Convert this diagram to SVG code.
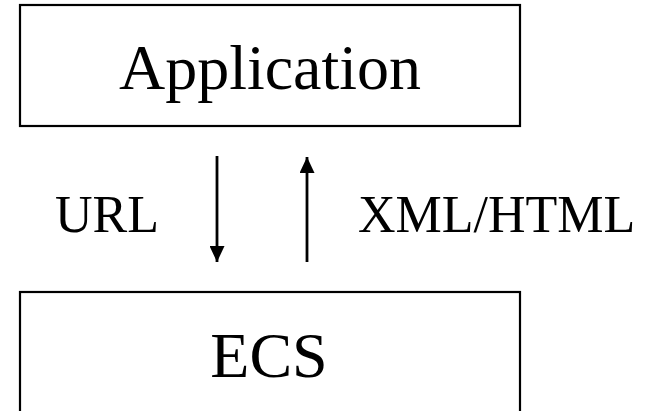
<svg xmlns="http://www.w3.org/2000/svg" width="658" height="411" viewBox="0 0 658 411">
<style>
.box{fill:#fff;stroke:#000;stroke-width:2.2}
.t{font-family:"Liberation Serif","Times New Roman",serif;fill:#000}
.big{font-size:64px}
.lbl{font-size:52px}
.conn{stroke:#000;stroke-width:2.8;fill:none}
</style>
<defs>
<marker id="ah" markerUnits="userSpaceOnUse" markerWidth="16" markerHeight="15" refX="16" refY="7.5" orient="auto" viewBox="0 0 16 15">
<path d="M0,0 L16,7.5 L0,15 Z" fill="#000"/>
</marker>
</defs>
<rect width="658" height="411" fill="#fff"/>
<g id="application">
<rect class="box" x="20" y="5" width="500" height="121"/>
<text class="t big" x="270" y="89" text-anchor="middle">Application</text>
</g>
<g id="ecs">
<rect class="box" x="20" y="292" width="500" height="130"/>
<text class="t big" x="269" y="377" text-anchor="middle">ECS</text>
</g>
<g id="connectors">
<line class="conn" x1="217" y1="156" x2="217" y2="262" marker-end="url(#ah)"/>
<line class="conn" x1="307" y1="262" x2="307" y2="157" marker-end="url(#ah)"/>
</g>
<g id="labels">
<text class="t lbl" x="55" y="232">URL</text>
<text class="t lbl" x="358" y="232">XML/HTML</text>
</g>
</svg>
